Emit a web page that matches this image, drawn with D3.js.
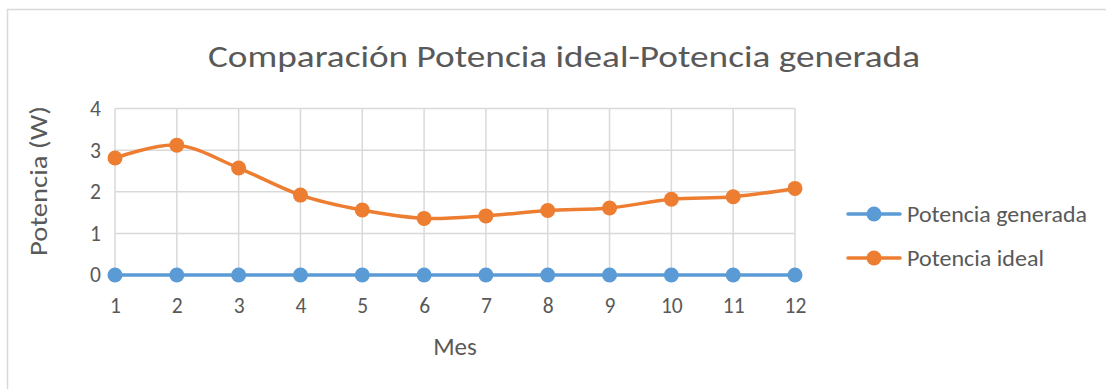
<!DOCTYPE html>
<html>
<head>
<meta charset="utf-8">
<script src="https://cdn.jsdelivr.net/npm/d3@7"></script>
<style>
  html, body { margin: 0; padding: 0; background: #fff; }
  svg { display: block; }
  text { font-family: Calibri, Carlito, Lato, "Open Sans", sans-serif; fill: #595959; }
</style>
</head>
<body>
<svg id="chart" width="1106" height="389"></svg>
<script>
// Month numbers on the x axis
const months = [1, 2, 3, 4, 5, 6, 7, 8, 9, 10, 11, 12];
// Power values in watts
const potenciaGenerada = [0, 0, 0, 0, 0, 0, 0, 0, 0, 0, 0, 0];
const potenciaIdeal = [2.81, 3.12, 2.57, 1.92, 1.56, 1.36, 1.42, 1.55, 1.61, 1.82, 1.88, 2.08];
const yTicks = [0, 1, 2, 3, 4];
const seriesNames = ["Potencia generada", "Potencia ideal"];
const seriesColors = ["#5B9BD5", "#ED7D31"];

const FONT = "Calibri, Carlito, Lato, 'Open Sans', sans-serif";
const svg = d3.select("#chart");
const W = 1106, H = 389;

// Outer chart frame
svg.append("rect")
  .attr("x", 7.5).attr("y", 9.5)
  .attr("width", W + 10).attr("height", H + 10)
  .attr("fill", "#fff").attr("stroke", "#d9d9d9").attr("stroke-width", 1.5);

const plot = { left: 115, right: 795, top: 108.5, bottom: 275 };

const x = d3.scaleLinear().domain([1, 12]).range([plot.left, plot.right]);
const y = d3.scaleLinear().domain([0, 4]).range([plot.bottom, plot.top]);

// Title
svg.append("text")
  .attr("x", 564).attr("y", 67)
  .attr("text-anchor", "middle")
  .style("font-size", "31px")
  .attr("textLength", 712).attr("lengthAdjust", "spacingAndGlyphs")
  .text("Comparación Potencia ideal-Potencia generada");

// Gridlines
const grid = svg.append("g").attr("stroke", "#d9d9d9").attr("stroke-width", 1.5);
grid.selectAll("line.h").data(yTicks).join("line")
  .attr("x1", plot.left).attr("x2", plot.right)
  .attr("y1", d => y(d)).attr("y2", d => y(d));
grid.selectAll("line.v").data(months).join("line")
  .attr("x1", d => x(d)).attr("x2", d => x(d))
  .attr("y1", plot.top).attr("y2", plot.bottom);

// Y axis tick labels
const yAxis = d3.axisLeft(y).tickValues(yTicks).tickFormat(d3.format("d")).tickSize(0).tickPadding(14);
svg.append("g").attr("transform", `translate(${plot.left},0)`).call(yAxis)
  .call(g => g.select(".domain").remove())
  .call(g => g.selectAll("text").attr("fill", "#595959")
    .style("font-size", "21.5px").style("font-family", FONT));

// X axis tick labels
const xAxis = d3.axisBottom(x).tickValues(months).tickFormat(d3.format("d")).tickSize(0).tickPadding(23);
svg.append("g").attr("transform", `translate(0,${plot.bottom})`).call(xAxis)
  .call(g => g.select(".domain").remove())
  .call(g => g.selectAll("text").attr("fill", "#595959")
    .style("font-size", "21.5px").style("font-family", FONT));

// Axis titles
svg.append("text")
  .attr("x", 455).attr("y", 355)
  .attr("text-anchor", "middle").style("font-size", "25px")
  .text("Mes");
svg.append("text")
  .attr("transform", "translate(47,181) rotate(-90)")
  .attr("text-anchor", "middle").style("font-size", "25px")
  .attr("textLength", 150).attr("lengthAdjust", "spacingAndGlyphs")
  .text("Potencia (W)");

// Series
const series = [potenciaGenerada, potenciaIdeal];
const line = d3.line()
  .x((d, i) => x(months[i]))
  .y(d => y(d))
  .curve(d3.curveCatmullRom.alpha(0));

series.forEach((vals, si) => {
  const g = svg.append("g");
  g.append("path")
    .attr("d", line(vals))
    .attr("fill", "none")
    .attr("stroke", seriesColors[si])
    .attr("stroke-width", 3.5)
    .attr("stroke-linecap", "round");
  g.selectAll("circle").data(vals).join("circle")
    .attr("cx", (d, i) => x(months[i]))
    .attr("cy", d => y(d))
    .attr("r", 7.5)
    .attr("fill", seriesColors[si]);
});

// Legend
const legendY = [214, 258];
const legendWidths = [180, 137];
seriesNames.forEach((name, i) => {
  const g = svg.append("g").attr("transform", `translate(0,${legendY[i]})`);
  g.append("line").attr("x1", 848).attr("x2", 900).attr("y1", 0).attr("y2", 0)
    .attr("stroke", seriesColors[i]).attr("stroke-width", 3.5).attr("stroke-linecap", "round");
  g.append("circle").attr("cx", 874).attr("cy", 0).attr("r", 7.5).attr("fill", seriesColors[i]);
  g.append("text").attr("x", 907).attr("y", 7.5).style("font-size", "21.5px")
    .attr("textLength", legendWidths[i]).attr("lengthAdjust", "spacingAndGlyphs")
    .text(name);
});
</script>
</body>
</html>
